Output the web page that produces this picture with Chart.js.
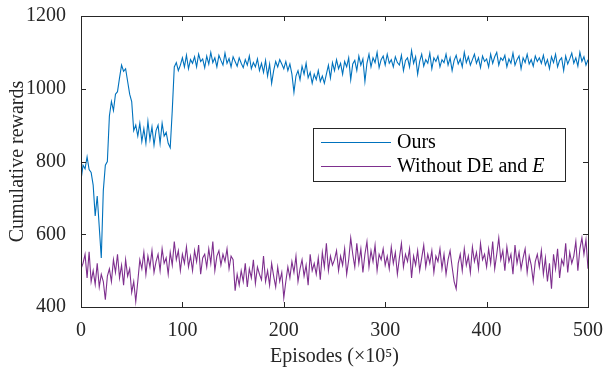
<!DOCTYPE html>
<html>
<head>
<meta charset="utf-8">
<script src="https://cdn.jsdelivr.net/npm/chart.js@4.4.1/dist/chart.umd.min.js"></script>
<style>
  body { margin: 0; background: #fff; }
  #chart { display: block; }
</style>
</head>
<body>
<canvas id="chart" width="604" height="369"></canvas>
<script>
const EPISODE_STEP = 2;
const seriesNames = ['Ours', 'Without DE and '];
const xTicks = [0, 100, 200, 300, 400, 500];
const yTicks = [400, 600, 800, 1000, 1200];

const ours = [
    749, 790, 780, 813, 778, 770, 735, 650, 705, 620, 535, 720, 790, 800, 925, 965, 940, 985, 992, 1030,
    1065, 1048, 1055, 1020, 985, 965, 885, 900, 870, 905, 855, 890, 850, 910, 860, 895, 845, 885, 900, 850,
    905, 870, 880, 850, 838, 940, 1060, 1072, 1050, 1065, 1085, 1060, 1092, 1055, 1080,
    1070, 1088, 1060, 1095, 1075, 1082, 1058, 1090, 1068, 1100, 1072, 1085, 1060, 1092, 1078, 1065, 1098, 1070, 1083, 1060, 1088,
    1075, 1062, 1085, 1070, 1058, 1080, 1065, 1090, 1055, 1072, 1060, 1082, 1050, 1070, 1045, 1078, 1035, 1068, 1015, 1050,
    1075, 1060, 1080, 1068, 1055, 1075, 1050, 1068, 1040, 990,
    1035, 1050, 1025, 1062, 1040, 1070, 1030, 1045, 1015, 1040, 1025, 1050, 1020, 1035, 1015, 1040, 1065, 1030, 1072, 1050,
    1080, 1055, 1070, 1040, 1075, 1060, 1085, 1025, 1068, 1078, 1050, 1090, 1065, 1082, 1020, 1070, 1095, 1060, 1085, 1072, 1100, 1058, 1080, 1090, 1065,
    1095, 1070, 1080, 1060, 1088, 1072, 1065, 1092, 1050, 1078, 1085, 1060, 1105, 1070, 1088, 1040, 1075, 1095, 1062, 1080, 1070, 1098, 1055, 1085, 1075,
    1090, 1060, 1080, 1072, 1095, 1065, 1085, 1050, 1078, 1092, 1068, 1082, 1060, 1100, 1072, 1088, 1065, 1080, 1095, 1070, 1085, 1058, 1090, 1075, 1082,
    1060, 1095, 1070, 1088, 1100, 1065, 1085, 1078, 1092, 1060, 1082, 1070, 1098, 1065, 1080, 1090, 1055, 1085, 1072, 1095, 1068, 1080, 1062, 1090, 1075,
    1085, 1070, 1092, 1065, 1080, 1055, 1088, 1072, 1095, 1060, 1078, 1085, 1050, 1090, 1068, 1082, 1098, 1070, 1085, 1062, 1100, 1075, 1088, 1065, 1080
];

const withoutDE = [
    505, 520, 545, 480, 552, 470, 500, 462, 520, 455, 490, 470, 420,
    485, 505, 470, 530, 495, 545, 480, 515, 460, 530, 485, 505, 440, 470, 415,
    470, 530, 505, 550, 490, 540, 510, 555, 495, 525, 545, 500, 560, 520, 535, 490, 550, 515,
    580, 530, 555, 500, 545, 520, 565, 510, 540, 500, 555, 525, 570, 490, 535,
    545, 510, 560, 520, 580, 500, 540, 555, 515, 545, 525, 560, 505, 540, 530,
    445, 490, 460, 500, 470, 520, 455, 505, 480, 530, 465, 510, 490, 475, 540, 470, 500, 460, 520, 485, 455, 510, 470, 495, 425,
    470, 510, 480, 525, 495, 540, 470, 505, 530, 485, 515, 460, 545, 500, 520, 490, 535, 475, 550, 510, 575, 500, 540, 515, 530,
    555, 500, 540, 515, 560, 490, 530, 590, 545, 510, 575, 520, 560, 495, 545, 580, 510, 555, 525, 570, 500, 545, 530, 560, 515,
    540, 505, 565, 520, 550, 490, 535, 575, 510, 545, 525, 560, 480, 540, 515, 555, 500, 535, 570, 510, 545, 520, 555, 495, 540,
    525, 560, 505, 545, 490, 530, 555, 510, 470, 450, 520, 545, 500, 560, 515, 540, 495, 565, 525, 550, 505, 575, 530, 545, 510,
    560, 520, 580, 505, 545, 590, 530, 555, 500, 565, 525, 545, 490, 570, 520, 550, 505, 535, 560, 495, 540, 515, 470, 525, 545,
    510, 555, 490, 535, 470, 520, 450, 545, 505, 560, 480, 530, 515, 575, 495, 550, 520, 540, 580, 500, 560, 590, 545, 585, 505
];

const BLUE = '#0072BD';
const PURPLE = '#7E2F8E';
const AXIS = '#262626';
const FONT = '"Liberation Serif", "Times New Roman", serif';

const toPoints = vals => vals.map((v, i) => ({ x: i * EPISODE_STEP, y: v }));

// MATLAB-style box with inward tick marks on all four sides
const boxPlugin = {
    id: 'box',
    afterDatasetsDraw(chart) {
        const { ctx, chartArea: a, scales } = chart;
        const len = 5;
        ctx.save();
        ctx.strokeStyle = AXIS;
        ctx.lineWidth = 1;
        ctx.beginPath();
        xTicks.forEach(t => {
            const px = Math.round(scales.x.getPixelForValue(t)) + 0.5;
            ctx.moveTo(px, a.bottom); ctx.lineTo(px, a.bottom - len);
            ctx.moveTo(px, a.top); ctx.lineTo(px, a.top + len);
        });
        yTicks.forEach(t => {
            const py = Math.round(scales.y.getPixelForValue(t)) + 0.5;
            ctx.moveTo(a.left, py); ctx.lineTo(a.left + len, py);
            ctx.moveTo(a.right, py); ctx.lineTo(a.right - len, py);
        });
        ctx.stroke();
        ctx.strokeRect(Math.round(a.left) + 0.5, Math.round(a.top) + 0.5,
            Math.round(a.right - a.left), Math.round(a.bottom - a.top));
        ctx.restore();
    },
    afterDraw(chart) {
        const ctx = chart.ctx;
        const box = { x: 313.5, y: 128.5, w: 252, h: 53 };
        ctx.save();
        ctx.fillStyle = '#fff';
        ctx.fillRect(box.x, box.y, box.w, box.h);
        ctx.strokeStyle = AXIS;
        ctx.lineWidth = 1;
        ctx.strokeRect(box.x, box.y, box.w, box.h);
        const rows = [142, 166];
        chart.data.datasets.forEach((ds, i) => {
            ctx.strokeStyle = ds.borderColor;
            ctx.beginPath();
            ctx.moveTo(321, rows[i] + 0.5);
            ctx.lineTo(391, rows[i] + 0.5);
            ctx.stroke();
            ctx.fillStyle = '#000';
            ctx.textBaseline = 'middle';
            ctx.font = '20px ' + FONT;
            ctx.fillText(ds.label, 397, rows[i] + 1);
            if (i === 1) {
                const w = ctx.measureText(ds.label).width;
                ctx.font = 'italic 20px ' + FONT;
                ctx.fillText('E', 397 + w, rows[i] + 1);
            }
        });
        ctx.restore();
    }
};

new Chart(document.getElementById('chart'), {
    type: 'line',
    data: {
        datasets: [
            { label: seriesNames[0], data: toPoints(ours), borderColor: BLUE, borderWidth: 1.1, pointRadius: 0, tension: 0 },
            { label: seriesNames[1], data: toPoints(withoutDE), borderColor: PURPLE, borderWidth: 1.1, pointRadius: 0, tension: 0 }
        ]
    },
    options: {
        responsive: false,
        animation: false,
        layout: { padding: { top: 16, right: 16, left: 0, bottom: 0 } },
        plugins: { legend: { display: false }, tooltip: { enabled: false } },
        scales: {
            x: {
                type: 'linear',
                min: 0,
                max: 500,
                afterBuildTicks: s => { s.ticks = xTicks.map(v => ({ value: v })); },
                afterFit: s => { s.height = 62; s.paddingLeft = 0; s.paddingRight = 0; },
                grid: { display: false },
                border: { display: false },
                ticks: { color: AXIS, padding: 4, maxRotation: 0, callback: v => String(v), font: { family: FONT, size: 20 } },
                title: { display: true, text: 'Episodes (×10⁵)', color: AXIS, padding: { top: 0, bottom: 0 }, font: { family: FONT, size: 20 } }
            },
            y: {
                min: 400,
                max: 1200,
                afterBuildTicks: s => { s.ticks = yTicks.map(v => ({ value: v })); },
                afterFit: s => { s.width = 81; s.paddingTop = 0; s.paddingBottom = 0; },
                grid: { display: false },
                border: { display: false },
                ticks: { color: AXIS, padding: 7, callback: v => String(v), font: { family: FONT, size: 20 } },
                title: { display: true, text: 'Cumulative rewards', color: AXIS, padding: { top: 6, bottom: 0 }, font: { family: FONT, size: 20 } }
            }
        }
    },
    plugins: [boxPlugin]
});
</script>
</body>
</html>
